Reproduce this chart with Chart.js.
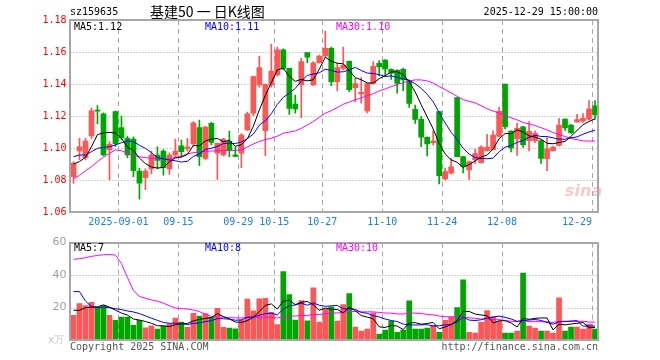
<!DOCTYPE html>
<html><head><meta charset="utf-8">
<script src="https://cdn.jsdelivr.net/npm/chart.js@4/dist/chart.umd.min.js"></script>
<style>
html,body{margin:0;padding:0;background:#fff;}
body{width:660px;height:360px;overflow:hidden;position:relative;font-family:"DejaVu Sans Mono",monospace;}
.t{position:absolute;font-size:10px;line-height:12px;white-space:pre;color:#000;}
.box{position:absolute;left:0;width:660px;}
</style></head><body>
<div class="t" style="left:565px;top:182px;font-family:'DejaVu Sans';font-style:italic;font-weight:bold;font-size:16px;line-height:18px;color:#f3cccc;">sina</div>
<div class="box" style="top:0;height:232px"><canvas id="main"></canvas></div>
<div class="box" style="top:232px;height:128px"><canvas id="vol"></canvas></div>
<div class="t" style="left:70px;top:6px">sz159635</div>
<div class="t" style="left:150px;top:2px;font-family:'Noto Sans CJK SC';font-size:14px;line-height:18px">基建50 一 日K线图</div>
<div class="t" style="right:62px;top:6px">2025-12-29 15:00:00</div>
<div class="t" style="left:74px;top:21px;color:#000">MA5:1.12</div>
<div class="t" style="left:205px;top:21px;color:#0000ff">MA10:1.11</div>
<div class="t" style="left:336px;top:21px;color:#ff00ff">MA30:1.10</div>
<div class="t" style="left:74px;top:242px;color:#000">MA5:7</div>
<div class="t" style="left:205px;top:242px;color:#0000ff">MA10:8</div>
<div class="t" style="left:336px;top:242px;color:#ff00ff">MA30:10</div>
<div class="t" style="left:48px;top:334px;color:#c4c4c4;font-size:10px">x万</div>
<div class="t" style="left:70px;top:341px;color:#555">Copyright 2025 SINA.COM</div>
<div class="t" style="right:62px;top:341px;color:#555">http://finance.sina.com.cn</div>
<script>
// ---------- data ----------
const dates = [
'2025-08-20','2025-08-21','2025-08-22','2025-08-25','2025-08-26','2025-08-27','2025-08-28','2025-08-29',
'2025-09-01','2025-09-02','2025-09-03','2025-09-04','2025-09-05','2025-09-08','2025-09-09','2025-09-10','2025-09-11','2025-09-12',
'2025-09-15','2025-09-16','2025-09-17','2025-09-18','2025-09-19','2025-09-22','2025-09-23','2025-09-24','2025-09-25','2025-09-26',
'2025-09-29','2025-09-30','2025-10-09','2025-10-10','2025-10-13','2025-10-14','2025-10-15','2025-10-16','2025-10-17',
'2025-10-20','2025-10-21','2025-10-22','2025-10-23','2025-10-24','2025-10-27','2025-10-28','2025-10-29','2025-10-30','2025-10-31',
'2025-11-03','2025-11-04','2025-11-05','2025-11-06','2025-11-07','2025-11-10','2025-11-11','2025-11-12','2025-11-13','2025-11-14',
'2025-11-17','2025-11-18','2025-11-19','2025-11-20','2025-11-21','2025-11-24','2025-11-25','2025-11-26','2025-11-27','2025-11-28',
'2025-12-01','2025-12-02','2025-12-03','2025-12-04','2025-12-05','2025-12-08','2025-12-09','2025-12-10','2025-12-11','2025-12-12',
'2025-12-15','2025-12-16','2025-12-17','2025-12-18','2025-12-19','2025-12-22','2025-12-23','2025-12-24','2025-12-25','2025-12-26',
'2025-12-29'];

const openP = [1.0821,1.0981,1.0940,1.1075,1.1235,1.1213,1.0988,1.1227,1.1127,1.1060,
1.1056,1.0856,1.0815,1.0869,1.0956,1.0981,1.0869,1.0956,1.1013,1.0994,
1.1025,1.1127,1.0935,1.1154,1.0967,1.0956,1.1044,1.0958,1.0967,1.1113,
1.1217,1.1394,1.1108,1.1394,1.1456,1.1613,1.1498,1.1275,1.1394,1.1596,
1.1394,1.1533,1.1575,1.1623,1.1415,1.1498,1.1542,1.1377,1.1338,1.1232,
1.1404,1.1529,1.1550,1.1492,1.1485,1.1492,1.1421,1.1242,1.1179,1.1067,
1.1034,1.1227,1.0806,1.0842,1.1315,1.0946,1.0863,1.0925,1.0908,1.0983,
1.0990,1.1073,1.1400,1.1106,1.1056,1.1133,1.1046,1.1046,1.1046,1.0933,
1.0983,1.1016,1.1181,1.1144,1.1163,1.1168,1.1180,1.1263];
const highP = [1.0915,1.1060,1.1060,1.1250,1.1265,1.1220,1.1040,1.1230,1.1200,1.1075,
1.1070,1.0873,1.0870,1.0980,1.1008,1.0990,1.0970,1.1056,1.1050,1.1060,
1.1165,1.1175,1.1135,1.1160,1.1030,1.1060,1.1106,1.1008,1.1090,1.1225,
1.1450,1.1575,1.1400,1.1650,1.1630,1.1620,1.1500,1.1331,1.1560,1.1596,
1.1540,1.1580,1.1731,1.1630,1.1530,1.1630,1.1545,1.1435,1.1440,1.1405,
1.1540,1.1546,1.1552,1.1495,1.1490,1.1500,1.1425,1.1269,1.1196,1.1070,
1.1108,1.1229,1.0875,1.0935,1.1315,1.0948,1.0918,1.0992,1.1013,1.1085,
1.1108,1.1254,1.1400,1.1108,1.1154,1.1135,1.1165,1.1108,1.1048,1.1065,
1.1010,1.1185,1.1183,1.1146,1.1210,1.1215,1.1296,1.1296];
const lowP = [1.0779,1.0925,1.0925,1.1060,1.1150,1.0950,1.0800,1.1010,1.1050,1.0940,
1.0820,1.0680,1.0740,1.0838,1.0870,1.0830,1.0835,1.0945,1.0946,1.0980,
1.1010,1.0890,1.0925,1.1020,1.0804,1.0950,1.0946,1.0945,1.0877,1.1110,
1.1200,1.1380,1.0952,1.1380,1.1450,1.1490,1.1210,1.1217,1.1190,1.1533,
1.1390,1.1530,1.1570,1.1390,1.1358,1.1488,1.1352,1.1290,1.1280,1.1219,
1.1400,1.1450,1.1450,1.1429,1.1342,1.1358,1.1254,1.1154,1.1008,1.0950,
1.1020,1.0775,1.0800,1.0838,1.0946,1.0845,1.0802,1.0904,1.0905,1.0980,
1.0988,1.1070,1.1120,1.0975,1.0954,1.1004,1.0981,1.1033,1.0904,1.0858,
1.0980,1.1012,1.1110,1.1090,1.1160,1.1160,1.1175,1.1180];
const closeP = [1.0904,1.1008,1.1044,1.1233,1.1230,1.0956,1.1023,1.1027,1.1063,1.0956,
1.0858,1.0780,1.0856,1.0956,1.0923,1.0877,1.0956,1.0980,1.0977,1.1008,
1.1158,1.0946,1.1130,1.1035,1.1029,1.1056,1.0988,1.0948,1.1081,1.1213,
1.1446,1.1502,1.1398,1.1481,1.1613,1.1498,1.1248,1.1244,1.1540,1.1567,
1.1533,1.1575,1.1623,1.1415,1.1502,1.1516,1.1365,1.1402,1.1348,1.1402,
1.1510,1.1506,1.1494,1.1467,1.1404,1.1425,1.1279,1.1179,1.1067,1.1025,
1.1044,1.0827,1.0852,1.0883,1.0946,1.0885,1.0915,1.0965,1.1006,1.1006,
1.1081,1.1229,1.1131,1.1000,1.1123,1.1021,1.1104,1.1092,1.0935,1.0995,
1.1006,1.1144,1.1125,1.1096,1.1177,1.1185,1.1245,1.1206];

const volume = [15.2,22.4,21.2,23.2,20.2,21.2,15.2,12.1,14.1,14.1,
9.1,12.1,7.5,8.7,6.7,8.5,10.0,13.5,11.0,7.8,
16.5,14.8,16.2,14.0,19.5,7.8,7.3,6.9,12.5,25.2,
18.0,25.3,25.7,17.0,9.5,42.2,28.0,12.3,24.3,11.8,
32.2,11.0,19.0,20.4,11.6,21.8,28.6,7.9,5.5,6.7,
16.8,3.6,6.1,11.7,4.8,6.1,24.2,6.7,6.7,7.3,
9.1,4.8,12.1,14.1,20.0,37.0,4.8,4.2,10.9,18.2,
14.5,11.5,4.2,4.2,5.5,41.2,8.5,7.3,5.5,5.5,
4.2,26.0,5.5,7.9,7.9,6.7,9.7,6.7];

// moving-average values for the first days (window not yet full)
const priceMa5Lead  = [1.0900,1.0915,1.0942,1.1008];
const priceMa10Lead = [1.0946,1.0956,1.0956,1.0977,1.0998,1.1004,1.1008,1.1019,1.1033];
const priceMa30Lead = [1.0808,1.0829,1.0858,1.0883,1.0915,1.0942,1.0967,1.0988,1.0983,1.0967,
1.0954,1.0946,1.0940,1.0935,1.0933,1.0929,1.0933,1.0942,1.0950,1.0963,
1.0971,1.0975,1.0979,1.0981,1.0983,1.0983,1.0985,1.0985,1.0988];
const volMa5Lead  = [18.3,18.3,19.9,20.3];
const volMa10Lead = [29.8,29.8,24.0,20.5,20.0,20.3,19.9,19.3,18.7];
const volMa30Lead = [49.7,50.1,50.7,51.5,52.1,52.5,52.7,52.3,47.1,38.5,
30.4,26.8,25.8,24.7,23.9,22.7,21.1,19.7,19.3,19.1,
18.5,17.5,15.8,14.6,14.2,14.0,13.8,13.6,13.6];

const dividerDates  = ['2025-09-01','2025-09-15','2025-09-29','2025-10-15','2025-10-27','2025-11-10','2025-11-24','2025-12-08','2025-12-29'];
const dividerLabels = ['2025-09-01','09-15','09-29','10-15','10-27','11-10','11-24','12-08','12-29'];

// ---------- helpers ----------
const UP = '#ff5555', DOWN = '#00a600';
const candleColor = i => closeP[i] >= openP[i] ? UP : DOWN;
function movingAvg(arr, n, lead) {
  return arr.map((_, i) => {
    if (i < n - 1) return lead[i];
    let s = 0; for (let k = i - n + 1; k <= i; k++) s += arr[k];
    return s / n;
  });
}
Chart.defaults.font.family = "'DejaVu Sans Mono', monospace";
Chart.defaults.font.size = 10;

const framePlugin = {
  id: 'frame',
  beforeDatasetsDraw(chart) {
    const {ctx, chartArea: a, scales: {x, y}} = chart;
    const step = x.getPixelForValue(1) - x.getPixelForValue(0);
    ctx.save();
    ctx.lineWidth = 1;
    ctx.strokeStyle = '#a6a6a6';
    ctx.setLineDash([1, 2]);
    y.ticks.forEach(t => {
      const py = Math.round(y.getPixelForValue(t.value)) + 0.5;
      if (py <= a.top + 2 || py >= a.bottom - 2) return;
      ctx.beginPath(); ctx.moveTo(a.left, py); ctx.lineTo(a.right, py); ctx.stroke();
    });
    ctx.setLineDash([5, 4]);
    dividerDates.forEach(d => {
      const i = dates.indexOf(d);
      const px = Math.floor(x.getPixelForValue(i) - step / 2) + 0.5;
      ctx.beginPath(); ctx.moveTo(px, a.top); ctx.lineTo(px, a.bottom); ctx.stroke();
    });
    ctx.restore();
  },
  afterDatasetsDraw(chart) {
    const {ctx, chartArea: a} = chart;
    ctx.save();
    ctx.lineWidth = 2;
    ctx.strokeStyle = '#a6a6a6';
    const l = Math.floor(a.left), t = Math.round(a.top), r = Math.round(a.right), b = Math.round(a.bottom);
    ctx.strokeRect(l, t, r - l, b - t);
    ctx.restore();
  }
};

const lineDs = (data, color) => ({type: 'line', data, borderColor: color, borderWidth: 1, pointRadius: 0, tension: 0, order: 0, fill: false});

// ---------- main chart ----------
new Chart(document.getElementById('main'), {
  type: 'bar',
  data: {
    labels: dates,
    datasets: [
      lineDs(movingAvg(closeP, 5, priceMa5Lead), '#000000'),
      lineDs(movingAvg(closeP, 10, priceMa10Lead), '#0000ff'),
      lineDs(movingAvg(closeP, 30, priceMa30Lead), '#ff00ff'),
      {data: openP.map((o, i) => [o, closeP[i]]), backgroundColor: ctx => candleColor(ctx.dataIndex),
       barThickness: 5, minBarLength: 1, grouped: false, order: 1, borderWidth: 0},
      {data: lowP.map((l, i) => [l, highP[i]]), backgroundColor: ctx => candleColor(ctx.dataIndex),
       barThickness: 1, grouped: false, order: 2, borderWidth: 0}
    ]
  },
  options: {
    responsive: true, maintainAspectRatio: false, animation: false, devicePixelRatio: 1, events: [],
    layout: {padding: {left: 0, right: 62, top: 20, bottom: 0}},
    plugins: {legend: {display: false}, tooltip: {enabled: false}},
    scales: {
      x: {
        offset: true,
        grid: {display: false, drawTicks: false}, border: {display: false},
        afterFit: s => { s.height = 20; },
        ticks: {
          autoSkip: false, maxRotation: 0, minRotation: 0, padding: 4, labelOffset: -3,
          color: '#1c7fd8', font: {size: 10},
          callback: (v, i) => {
            const k = dividerDates.indexOf(dates[i]);
            if (k < 0) return '';
            const s = dividerLabels[k];
            return i === dates.length - 1 ? s + ' '.repeat(s.length) : s;
          }
        }
      },
      y: {
        min: 1.06, max: 1.18,
        grid: {display: false, drawTicks: false}, border: {display: false},
        afterFit: s => { s.width = 70.5; },
        ticks: {stepSize: 0.02, padding: 4, color: '#ff0000', font: {size: 10}, callback: v => Number(v).toFixed(2)}
      }
    }
  },
  plugins: [framePlugin]
});

// ---------- volume chart ----------
new Chart(document.getElementById('vol'), {
  type: 'bar',
  data: {
    labels: dates,
    datasets: [
      lineDs(movingAvg(volume, 5, volMa5Lead), '#000000'),
      lineDs(movingAvg(volume, 10, volMa10Lead), '#0000ff'),
      lineDs(movingAvg(volume, 30, volMa30Lead), '#ff00ff'),
      {data: volume, backgroundColor: ctx => candleColor(ctx.dataIndex), barThickness: 5, order: 1, borderWidth: 0}
    ]
  },
  options: {
    responsive: true, maintainAspectRatio: false, animation: false, devicePixelRatio: 1, events: [],
    layout: {padding: {left: 0, right: 62, top: 9, bottom: 20}},
    plugins: {legend: {display: false}, tooltip: {enabled: false}},
    scales: {
      x: {offset: true, display: false},
      y: {
        min: 0, max: 60,
        grid: {display: false, drawTicks: false}, border: {display: false},
        afterFit: s => { s.width = 70.5; },
        ticks: {stepSize: 20, padding: 4, color: '#a0a0a0', font: {family: "'DejaVu Sans', sans-serif", size: 11},
                callback: v => v === 0 ? '' : String(v)}
      }
    }
  },
  plugins: [framePlugin]
});
</script>
</body></html>
